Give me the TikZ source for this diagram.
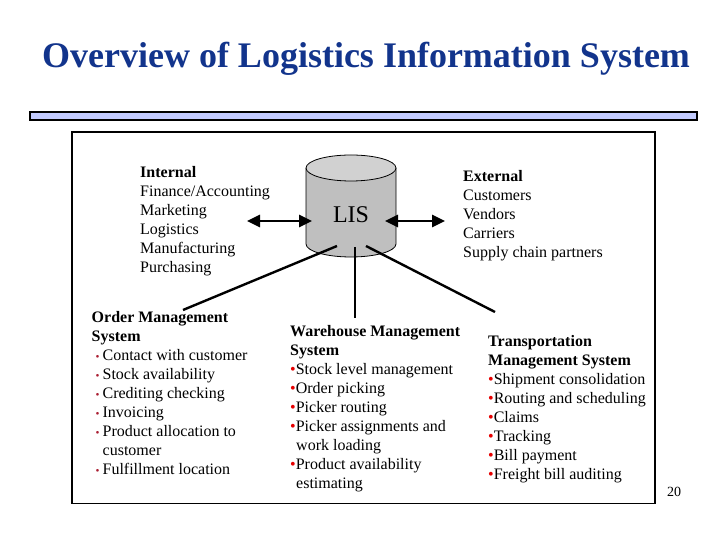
\documentclass[tikz,border=0pt]{standalone}
\usepackage{fontspec}
\setmainfont{Liberation Serif}
\usetikzlibrary{arrows.meta}

\definecolor{titleblue}{RGB}{18,52,140}
\definecolor{barblue}{RGB}{195,203,255}
\definecolor{dotred}{RGB}{230,0,0}
\definecolor{darkdot}{RGB}{170,30,50}
\newcommand{\rdot}{{\color{dotred}\textbullet}}
\newcommand{\sdot}{\hspace*{4pt}{\color{darkdot}\scalebox{0.7}{\textbullet}}\hspace{3pt}}

\begin{document}
\begin{tikzpicture}[x=1pt, y=1pt,
  txt/.style={anchor=base west, inner sep=0pt, align=left, font=\fontsize{16}{19}\selectfont},
  link/.style={line width=2.4pt},
  dbl/.style={line width=2.6pt, {Triangle[length=13pt,width=12pt]}-{Triangle[length=13pt,width=12pt]}}]
\useasboundingbox (0,0) rectangle (720,540);

\node (title) at (366,472) [anchor=base, inner sep=0pt, text=titleblue,
  font=\fontsize{36}{40}\selectfont\bfseries] {Overview of Logistics Information System};
\draw[fill=barblue, line width=1.2pt] (30,420) rectangle (697,428);
\draw[line width=1.3pt] (72,36.5) rectangle (655,408);

% database
\fill[black!25] (306,296) -- (306,372) -- (396,372) -- (396,296)
  arc[start angle=0, end angle=-180, x radius=45, y radius=13];
\draw[line width=0.8pt] (306,372) -- (306,296)
  arc[start angle=180, end angle=360, x radius=45, y radius=13] -- (396,372);
\draw[line width=0.8pt, fill=black!18] (351,372) ellipse [x radius=45, y radius=13];
\node (lis) at (351,325) [font=\fontsize{24}{28}\selectfont] {LIS};

% blocks sit on the baseline of their last line
\node[txt] (int) at (140,267.5) {\textbf{Internal}\\Finance/Accounting\\Marketing\\Logistics\\Manufacturing\\Purchasing};
\node[txt] (ext) at (463,282.5) {\textbf{External}\\Customers\\Vendors\\Carriers\\Supply chain partners};

\node[txt] (oms) at (91.5,65.3) {\textbf{Order Management}\\\textbf{System}\\
  \sdot Contact with customer\\\sdot Stock availability\\\sdot Crediting checking\\
  \sdot Invoicing\\\sdot Product allocation to\\\hspace*{11pt}customer\\\sdot Fulfillment location};
\node[txt] (wms) at (290,51) {\textbf{Warehouse Management}\\\textbf{System}\\
  \rdot Stock level management\\\rdot Order picking\\\rdot Picker routing\\
  \rdot Picker assignments and\\\hspace*{6pt}work loading\\\rdot Product availability\\\hspace*{6pt}estimating};
\node[txt] (tms) at (488,60.3) {\textbf{Transportation}\\\textbf{Management System}\\
  \rdot Shipment consolidation\\\rdot Routing and scheduling\\\rdot Claims\\
  \rdot Tracking\\\rdot Bill payment\\\rdot Freight bill auditing};

\node (pg) at (674,43) [anchor=base, inner sep=0pt, font=\fontsize{14}{16}\selectfont] {20};

\coordinate (intR) at (247,319);
\coordinate (lisL) at (312,319);
\coordinate (lisR) at (385,319);
\coordinate (extL) at (445,319);
\coordinate (lisA) at (337,294);
\coordinate (lisB) at (355,293);
\coordinate (lisC) at (366,294);
\coordinate (omsT) at (183,230);
\coordinate (wmsT) at (355,222);
\coordinate (tmsT) at (495,228);

\draw[dbl] (intR) -- (lisL);
\draw[dbl] (lisR) -- (extL);
\draw[link] (lisA) -- (omsT);
\draw[link] (lisB) -- (wmsT);
\draw[link] (lisC) -- (tmsT);
\end{tikzpicture}
\end{document}
